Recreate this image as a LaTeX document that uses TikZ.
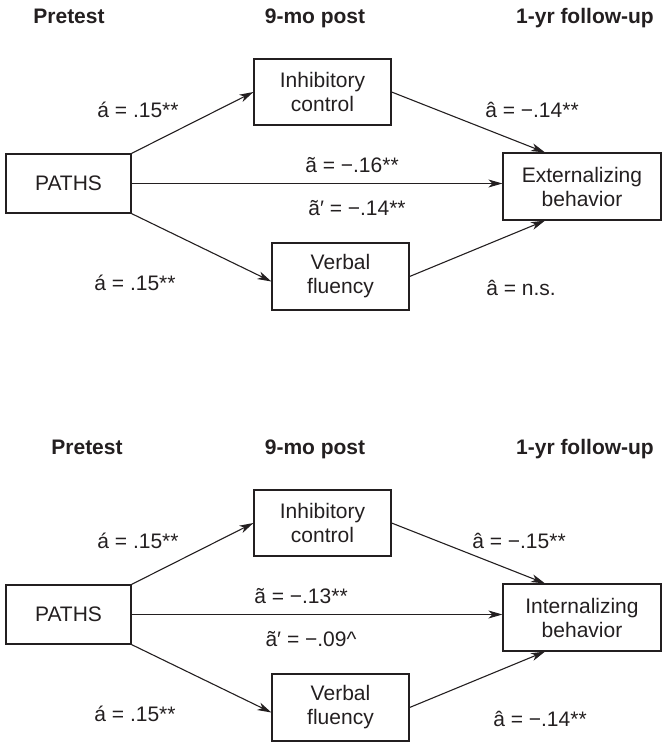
\documentclass[tikz,border=0pt]{standalone}
\usepackage{fontspec}
\setmainfont{Liberation Sans}
\usetikzlibrary{arrows.meta}
\definecolor{ink}{RGB}{35,31,32}
\begin{document}
\begin{tikzpicture}[x=1pt,y=-1pt,
  every node/.style={font=\fontsize{21}{24}\selectfont, text=ink},
  box/.style={draw=ink, line width=1.2pt, inner sep=0pt, align=center},
  arr/.style={draw=ink, line width=1.1pt, -{Stealth[length=14pt,width=8pt,inset=4pt]}},
  lbl/.style={inner sep=0pt},
  hdr/.style={font=\fontsize{21}{24}\selectfont\bfseries, anchor=base, inner sep=0pt}]
\useasboundingbox (0,0) rectangle (663,742);

% ---------- top diagram ----------
\node[hdr] (h1T) at (69,23.5) {Pretest};
\node[hdr] (h2T) at (315,23.5) {9-mo post};
\node[hdr] (h3T) at (585,23.5) {1-yr follow-up};

\node[box, minimum width=125pt, minimum height=59pt] (pathsT) at (68.5,183.5) {PATHS};
\node[box, minimum width=137pt, minimum height=66pt] (inhT) at (322.5,92) {Inhibitory\\control};
\node[box, minimum width=158pt, minimum height=67pt] (extT) at (582,186.5) {Externalizing\\behavior};
\node[box, minimum width=137pt, minimum height=67pt] (verbT) at (340.5,276.5) {Verbal\\fluency};

\draw[arr] (pathsT.north east) -- (inhT.west);
\draw[arr] (pathsT.south east) -- ([yshift=-5pt]verbT.west);
\draw[arr] (pathsT.east) -- (pathsT.east -| extT.west);
\draw[arr] (inhT.east) -- ([xshift=-37pt]extT.north);
\draw[arr] (verbT.east) -- ([xshift=-37pt]extT.south);

\node[lbl] (l1T) at (138,110) {á = .15**};
\node[lbl] (l2T) at (532,110) {â = −.14**};
\node[lbl] (l3T) at (352,165) {ã = −.16**};
\node[lbl] (l4T) at (357,208) {ã′ = −.14**};
\node[lbl] (l5T) at (135,283) {á = .15**};
\node[lbl] (l6T) at (521,288) {â = n.s.};

% ---------- bottom diagram ----------
\node[hdr] (h1B) at (87,454.5) {Pretest};
\node[hdr] (h2B) at (315,454.5) {9-mo post};
\node[hdr] (h3B) at (585,454.5) {1-yr follow-up};

\node[box, minimum width=125pt, minimum height=59pt] (pathsB) at (68.5,614.5) {PATHS};
\node[box, minimum width=137pt, minimum height=66pt] (inhB) at (322.5,523) {Inhibitory\\control};
\node[box, minimum width=158pt, minimum height=67pt] (extB) at (582,617.5) {Internalizing\\behavior};
\node[box, minimum width=137pt, minimum height=67pt] (verbB) at (340.5,707.5) {Verbal\\fluency};

\draw[arr] (pathsB.north east) -- (inhB.west);
\draw[arr] (pathsB.south east) -- ([yshift=-5pt]verbB.west);
\draw[arr] (pathsB.east) -- (pathsB.east -| extB.west);
\draw[arr] (inhB.east) -- ([xshift=-37pt]extB.north);
\draw[arr] (verbB.east) -- ([xshift=-37pt]extB.south);

\node[lbl] (l1B) at (138,541) {á = .15**};
\node[lbl] (l2B) at (519,541) {â = −.15**};
\node[lbl] (l3B) at (301,596) {ã = −.13**};
\node[lbl] (l4B) at (311,639) {ã′ = −.09\textasciicircum};
\node[lbl] (l5B) at (135,714) {á = .15**};
\node[lbl] (l6B) at (540,719) {â = −.14**};
\end{tikzpicture}
\end{document}
